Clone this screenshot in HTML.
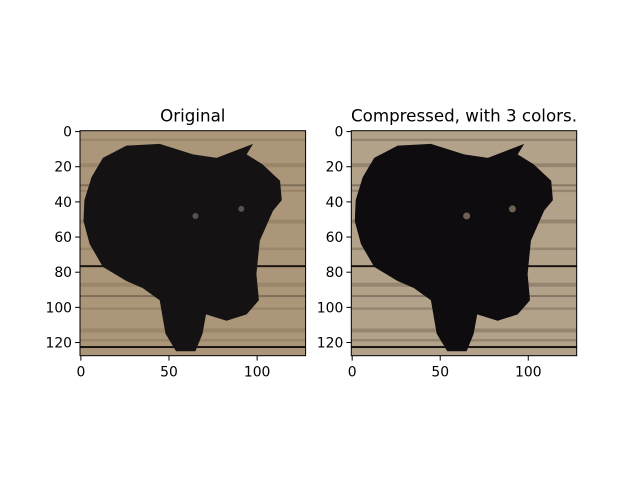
<!DOCTYPE html>
<html><head><meta charset="utf-8"><style>
body{margin:0;background:#fff;}
svg{display:block;font-family:"DejaVu Sans","Liberation Sans",sans-serif;}
</style></head><body>
<svg id="fig" width="640" height="480" viewBox="0 0 640 480"></svg>
<script>
const xTicks=[0,50,100];
const yTicks=[0,20,40,60,80,100,120];
const imgSize=128;
const titles=["Original","Compressed, with 3 colors."];
const dogOutline=[[2,39],[6,26],[12.5,15],[25.8,8],[44.7,7],[63.6,13],[77,15],[97.7,7],[94,13],[103,18.6],[113,28],[114,39],[109,45],[101.5,62],[99.6,81],[101,96],[94,104],[82.6,107.6],[71,104],[69,115],[65,125],[54,125],[48,115],[44.7,96],[35,89],[25.8,85],[12.5,77],[5,64],[1.5,51]];
const plankLines=[30,76,93,122];
const streaksY=[4,18,33,50,66,86,100,112,118];
const axesDefs=[{x0:80,x1:305.6,y0:130.7,y1:355.7,mode:"orig"},{x0:351.3,x1:576.7,y0:130.7,y1:355.7,mode:"comp"}];
const NS="http://www.w3.org/2000/svg";
const fig=document.getElementById('fig');
function mk(tag,attrs,parent){const e=document.createElementNS(NS,tag);for(const k in attrs)e.setAttribute(k,attrs[k]);(parent||fig).appendChild(e);return e;}
axesDefs.forEach((a,i)=>{
  const sx=v=>a.x0+(v+0.5)*(a.x1-a.x0)/imgSize;
  const sy=v=>a.y0+(v+0.5)*(a.y1-a.y0)/imgSize;
  const g=mk('g',{});
  
  
  const comp=a.mode==="comp";
  const bg=mk('rect',{x:a.x0,y:a.y0,width:a.x1-a.x0,height:a.y1-a.y0,fill:comp?'#b3a28a':'#ab9679'},g);
  
  
  streaksY.forEach((s,j)=>{
    const r=mk('rect',{x:a.x0,y:sy(s),width:a.x1-a.x0,height:(j%2?4:2.5),fill:comp?'#6e6152':'#7d6a54',opacity:comp?0.45:0.35},g);
    
    
  });
  plankLines.forEach(p=>{
    const r=mk('rect',{x:a.x0,y:sy(p),width:a.x1-a.x0,height:2,fill:'#1a1512',opacity:p===30||p===93?0.3:1},g);
    
    
  });
  const pts=dogOutline.map(q=>sx(q[0]).toFixed(1)+','+sy(q[1]).toFixed(1)).join(' ');
  const dog=mk('polygon',{points:pts,fill:comp?'#0f0c0f':'#141213'},g);
  
  
  [[65,48],[91,44]].forEach(e=>{
    const c=mk('circle',{cx:sx(e[0]),cy:sy(e[1]),r:comp?3.5:3,fill:comp?'#6e6152':'#5a5050'},g);
    
    
  });
  const fr=mk('rect',{x:a.x0,y:a.y0,width:a.x1-a.x0,height:a.y1-a.y0,fill:'none',stroke:'#000','stroke-width':1},g);
  
  
  yTicks.forEach(t=>{
    const y=sy(t);
    mk('line',{x1:a.x0-4.9,x2:a.x0,y1:y,y2:y,stroke:'#000','stroke-width':1},g);
    const tx=mk('text',{x:a.x0-8,y:y+5,'font-size':13.9,'text-anchor':'end',fill:'#000'},g);
    tx.textContent=t;
    
    
  });
  xTicks.forEach(t=>{
    const x=sx(t);
    mk('line',{x1:x,x2:x,y1:a.y1,y2:a.y1+4.9,stroke:'#000','stroke-width':1},g);
    const tx=mk('text',{x:x,y:a.y1+21,'font-size':13.9,'text-anchor':'middle',fill:'#000'},g);
    tx.textContent=t;
    
    
  });
  const ti=mk('text',{x:(a.x0+a.x1)/2,y:a.y0-9,'font-size':16.7,'text-anchor':'middle',fill:'#000'},g);
  ti.textContent=titles[i];
  
  
});
</script>
</body></html>
